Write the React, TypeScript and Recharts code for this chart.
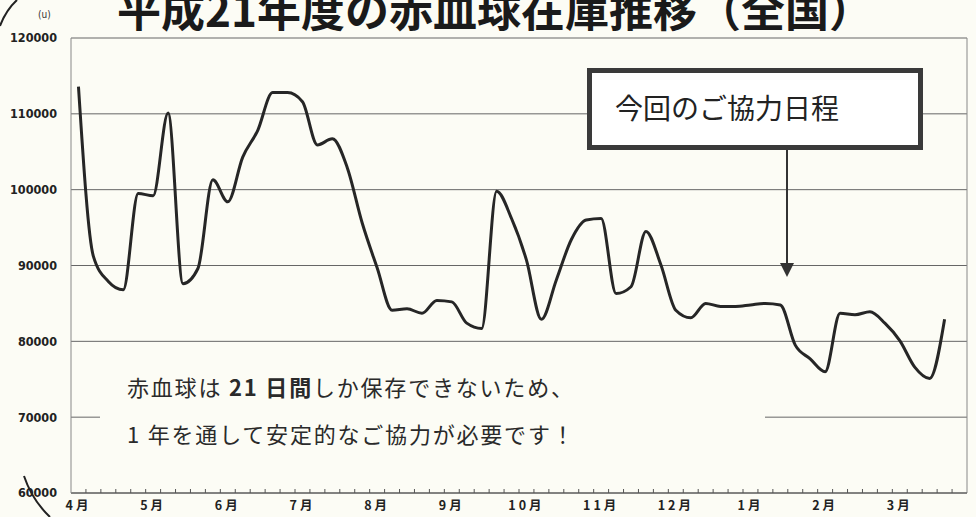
import { LineChart, Line, XAxis, YAxis, CartesianGrid, ReferenceLine } from "recharts";

// 月ラベル（4月〜3月）、1か月 = 5区間
const monthLabels = ["4月", "5月", "6月", "7月", "8月", "9月", "10月", "11月", "12月", "1月", "2月", "3月"];
const slotsPerMonth = 5;

// 赤血球在庫（単位: u）
const stock = [
  113600, 91200, 87900, 86800, 99500, 99200, 110100, 87600, 89600, 101300,
  98400, 104300, 107800, 112800, 112800, 111600, 105900, 106700, 102900, 95600,
  89700, 84100, 84300, 83700, 85400, 85200, 82400, 81700, 99800, 96200,
  90700, 82900, 88100, 93400, 96000, 96200, 86300, 87200, 94500, 90100,
  84100, 83100, 85000, 84600, 84600, 84800, 85000, 84800, 79500, 77700,
  76000, 83700, 83500, 83900, 82400, 80100, 76600, 75100, 82900,
];

const yTicks = [60000, 70000, 80000, 90000, 100000, 110000, 120000];

const slotCount = monthLabels.length * slotsPerMonth;
const chartData = stock.map((v, i) => ({ slot: i + 0.5, stock: v }));
const boundaryTicks = Array.from({ length: slotCount - 1 }, (_, i) => i + 1);
const labelTicks = monthLabels.map((_, m) => m * slotsPerMonth + 0.5);
const xTicks = [...labelTicks, ...boundaryTicks].sort((a, b) => a - b);

const bg = "#fcfcf5";
const narrow = "'Liberation Sans Narrow', 'DejaVu Sans Condensed', 'Liberation Sans', sans-serif";
const jp = "'Noto Sans CJK JP', sans-serif";

const MonthTick = (props: any) => {
  const { x, y, payload } = props;
  const v = payload.value as number;
  if (Number.isInteger(v)) {
    return <line x1={x} x2={x} y1={y - 4} y2={y} stroke="#555" strokeWidth={1} />;
  }
  const label = monthLabels[Math.round((v - 0.5) / slotsPerMonth)];
  return (
    <text x={x} y={y + 17} textAnchor="middle" fontSize={12.5} fontWeight="bold" letterSpacing={3}
      fontFamily={jp} fill="#222">
      {label}
    </text>
  );
};

export default function App() {
  return (
    <div style={{ position: "absolute", left: 0, top: 0, width: 976, height: 517, background: bg, overflow: "hidden" }}>
      <LineChart width={976} height={517} data={chartData} margin={{ top: 38, right: 9, bottom: 0, left: 8 }}>
        <CartesianGrid vertical={false} stroke="#666" strokeWidth={1} />
        <XAxis
          dataKey="slot"
          type="number"
          domain={[0, slotCount]}
          ticks={xTicks}
          interval={0}
          tick={<MonthTick />}
          tickLine={false}
          tickSize={0}
          tickMargin={0}
          height={24}
          axisLine={{ stroke: "#555" }}
        />
        <YAxis
          domain={[60000, 120000]}
          ticks={yTicks}
          interval={0}
          width={63}
          tickLine={false}
          tickSize={6}
          tickMargin={8}
          axisLine={{ stroke: "#888" }}
          tick={{ fontSize: 12.5, fontWeight: "bold", fill: "#222", fontFamily: narrow }}
        />
        <ReferenceLine x={slotCount} stroke="#888" />
        <Line
          type="monotone"
          dataKey="stock"
          stroke="#262626"
          strokeWidth={3}
          dot={false}
          isAnimationActive={false}
        />
      </LineChart>

      <svg width={976} height={517} style={{ position: "absolute", left: 0, top: 0, pointerEvents: "none" }}>
        <text x={495} y={27} textAnchor="middle" fontSize={44} fontWeight="bold" fontFamily={jp} fill="#1a1a1a">
          平成21年度の赤血球在庫推移（全国）
        </text>
        <text x={38} y={18} fontSize={10} fontFamily={narrow} fill="#333">(u)</text>

        <path d="M 0 26 Q 6 10 17 0" fill="none" stroke="#222" strokeWidth={2} />
        <path d="M 24 476 Q 32 500 50 517" fill="none" stroke="#222" strokeWidth={2} />

        <rect x={589.5} y={70.5} width={331} height={77} fill="#fff" stroke="#3a3a3a" strokeWidth={5} />
        <text x={615} y={119} fontSize={28} fontFamily={jp} fill="#222">今回のご協力日程</text>
        <line x1={787} x2={787} y1={150} y2={264} stroke="#333" strokeWidth={2} />
        <polygon points="780,263 794,263 787,277" fill="#333" />

        <rect x={100} y={352} width={665} height={108} fill={bg} />
        <text x={127} y={396} fontSize={22} fontFamily={jp} fill="#2a2a2a" letterSpacing={1.8}>
          赤血球は<tspan fontWeight="bold"> 21 日間</tspan>しか保存できないため、
        </text>
        <text x={127} y={443} fontSize={22} fontFamily={jp} fill="#2a2a2a" letterSpacing={1.8}>
          1 年を通して安定的なご協力が必要です！
        </text>
      </svg>
    </div>
  );
}
